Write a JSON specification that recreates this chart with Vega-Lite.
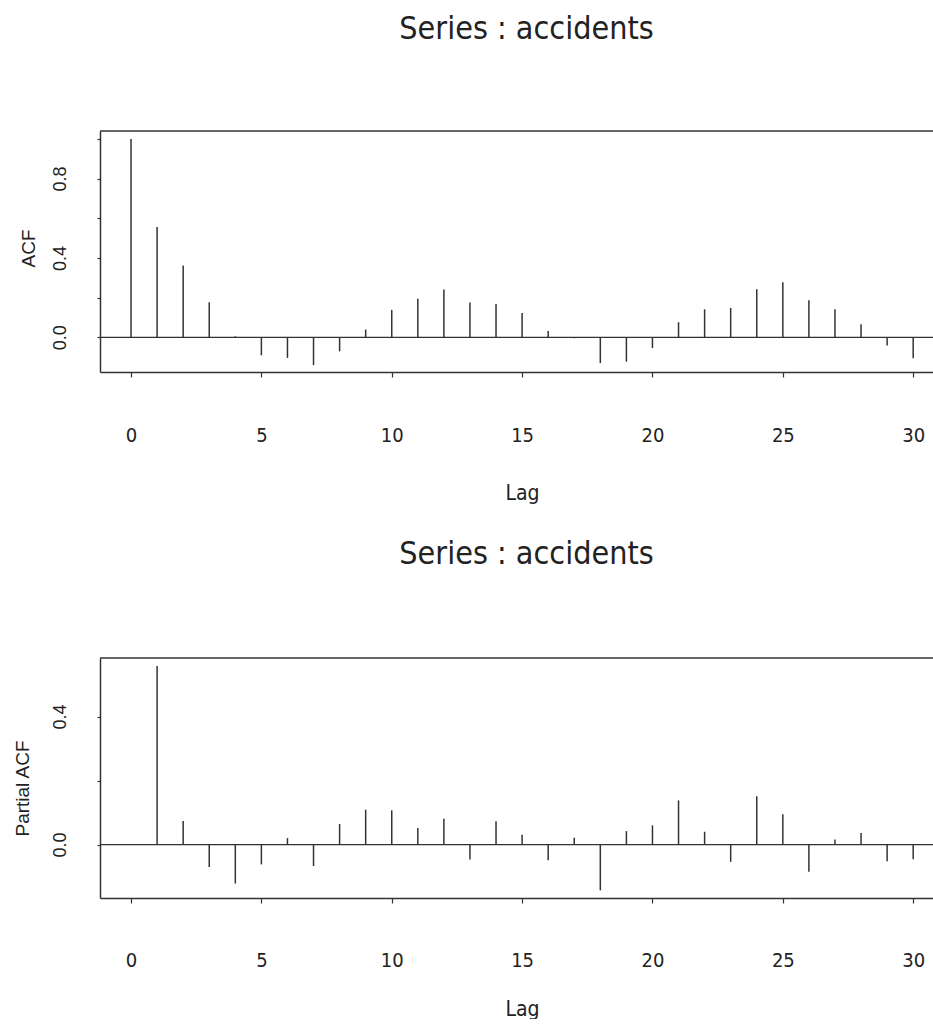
{
  "$schema": "https://vega.github.io/schema/vega-lite/v6.json",
  "background": "white",
  "padding": {"left": 13, "top": 13, "right": 0, "bottom": 0},
  "spacing": 35,
  "datasets": {
    "acf": [
      {"lag": 0, "acf": 1.0}, {"lag": 1, "acf": 0.556}, {"lag": 2, "acf": 0.362}, {"lag": 3, "acf": 0.177},
      {"lag": 4, "acf": 0.005}, {"lag": 5, "acf": -0.091}, {"lag": 6, "acf": -0.104}, {"lag": 7, "acf": -0.14},
      {"lag": 8, "acf": -0.071}, {"lag": 9, "acf": 0.039}, {"lag": 10, "acf": 0.138}, {"lag": 11, "acf": 0.194},
      {"lag": 12, "acf": 0.241}, {"lag": 13, "acf": 0.175}, {"lag": 14, "acf": 0.168}, {"lag": 15, "acf": 0.123},
      {"lag": 16, "acf": 0.032}, {"lag": 17, "acf": -0.005}, {"lag": 18, "acf": -0.13}, {"lag": 19, "acf": -0.123},
      {"lag": 20, "acf": -0.054}, {"lag": 21, "acf": 0.076}, {"lag": 22, "acf": 0.141}, {"lag": 23, "acf": 0.148},
      {"lag": 24, "acf": 0.242}, {"lag": 25, "acf": 0.278}, {"lag": 26, "acf": 0.187}, {"lag": 27, "acf": 0.141},
      {"lag": 28, "acf": 0.066}, {"lag": 29, "acf": -0.042}, {"lag": 30, "acf": -0.106}
    ],
    "pacf": [
      {"lag": 1, "pacf": 0.558}, {"lag": 2, "pacf": 0.074}, {"lag": 3, "pacf": -0.07}, {"lag": 4, "pacf": -0.122},
      {"lag": 5, "pacf": -0.062}, {"lag": 6, "pacf": 0.02}, {"lag": 7, "pacf": -0.067}, {"lag": 8, "pacf": 0.064},
      {"lag": 9, "pacf": 0.109}, {"lag": 10, "pacf": 0.107}, {"lag": 11, "pacf": 0.052}, {"lag": 12, "pacf": 0.081},
      {"lag": 13, "pacf": -0.047}, {"lag": 14, "pacf": 0.073}, {"lag": 15, "pacf": 0.031}, {"lag": 16, "pacf": -0.049},
      {"lag": 17, "pacf": 0.021}, {"lag": 18, "pacf": -0.143}, {"lag": 19, "pacf": 0.042}, {"lag": 20, "pacf": 0.06},
      {"lag": 21, "pacf": 0.138}, {"lag": 22, "pacf": 0.04}, {"lag": 23, "pacf": -0.054}, {"lag": 24, "pacf": 0.151},
      {"lag": 25, "pacf": 0.095}, {"lag": 26, "pacf": -0.085}, {"lag": 27, "pacf": 0.016}, {"lag": 28, "pacf": 0.036},
      {"lag": 29, "pacf": -0.052}, {"lag": 30, "pacf": -0.046}
    ]
  },
  "config": {
    "view": {"stroke": null},
    "axis": {
      "grid": false,
      "domainColor": "#333333",
      "domainWidth": 1.5,
      "tickColor": "#333333",
      "tickWidth": 1.2,
      "labelColor": "#222222",
      "titleColor": "#222222",
      "titleFontWeight": "normal"
    },
    "axisX": {
      "labelFont": "Liberation Sans Narrow, DejaVu Sans Condensed, sans-serif",
      "labelFontSize": 20,
      "titleFont": "Liberation Sans Narrow, DejaVu Sans Condensed, sans-serif",
      "titleFontSize": 21,
      "tickSize": 5,
      "labelPadding": 48,
      "titlePadding": 37,
      "labelFlush": false,
      "labelOverlap": false,
      "titleX": 422
    },
    "axisY": {
      "labelFont": "Liberation Sans",
      "labelFontSize": 18,
      "labelAngle": 270,
      "labelAlign": "center",
      "labelBaseline": "bottom",
      "labelPadding": 28,
      "tickSize": 3,
      "titleFont": "Liberation Sans",
      "titleFontSize": 19,
      "titleAngle": 270,
      "titleAlign": "center",
      "titleBaseline": "middle",
      "labelOverlap": false,
      "labelExpr": "abs((datum.value * 10) % 4) < 0.01 ? format(datum.value, '.1f') : ''"
    },
    "title": {
      "font": "Liberation Sans Narrow, DejaVu Sans Condensed, sans-serif",
      "fontSize": 32,
      "fontWeight": "normal",
      "color": "#222222",
      "anchor": "middle",
      "frame": "group",
      "baseline": "alphabetic",
      "dx": 10
    }
  },
  "vconcat": [
    {
      "width": 833,
      "height": 241,
      "title": {"text": "Series : accidents", "offset": 84},
      "layer": [
        {
          "data": {"name": "acf"},
          "mark": {"type": "rule", "color": "#333333", "strokeWidth": 1.5},
          "encoding": {
            "x": {
              "field": "lag", "type": "quantitative",
              "scale": {"domain": [-1.19, 30.76], "nice": false, "zero": false},
              "axis": {"values": [0, 5, 10, 15, 20, 25, 30], "title": "Lag"}
            },
            "y": {
              "field": "acf", "type": "quantitative",
              "scale": {"domain": [-0.175, 1.04], "nice": false},
              "axis": {"values": [0, 0.2, 0.4, 0.6, 0.8, 1.0], "title": "ACF", "titleX": -71.5, "titleY": 117}
            },
            "y2": {"datum": 0}
          }
        },
        {
          "data": {"values": [{}]},
          "mark": {"type": "rule", "color": "#333333", "strokeWidth": 1.3},
          "encoding": {"y": {"datum": 0}}
        },
        {
          "data": {"values": [{}]},
          "mark": {"type": "rule", "color": "#333333", "strokeWidth": 1.5},
          "encoding": {"y": {"datum": 1.04}}
        }
      ]
    },
    {
      "width": 833,
      "height": 240,
      "title": {"text": "Series : accidents", "offset": 86},
      "layer": [
        {
          "data": {"name": "pacf"},
          "mark": {"type": "rule", "color": "#333333", "strokeWidth": 1.5},
          "encoding": {
            "x": {
              "field": "lag", "type": "quantitative",
              "scale": {"domain": [-1.19, 30.76], "nice": false, "zero": false},
              "axis": {"values": [0, 5, 10, 15, 20, 25, 30], "title": "Lag", "labelPadding": 47, "titlePadding": 28}
            },
            "y": {
              "field": "pacf", "type": "quantitative",
              "scale": {"domain": [-0.167, 0.583], "nice": false},
              "axis": {"values": [0, 0.2, 0.4], "title": "Partial ACF", "titleX": -78, "titleY": 130}
            },
            "y2": {"datum": 0}
          }
        },
        {
          "data": {"values": [{}]},
          "mark": {"type": "rule", "color": "#333333", "strokeWidth": 1.3},
          "encoding": {"y": {"datum": 0}}
        },
        {
          "data": {"values": [{}]},
          "mark": {"type": "rule", "color": "#333333", "strokeWidth": 1.5},
          "encoding": {"y": {"datum": 0.583}}
        }
      ]
    }
  ]
}
